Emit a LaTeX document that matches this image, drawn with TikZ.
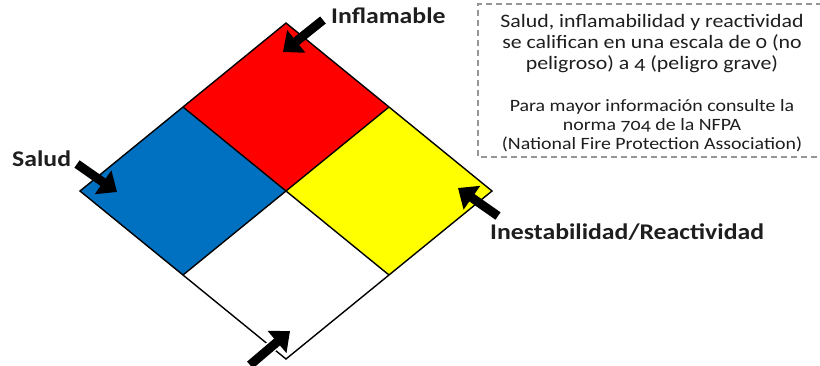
\documentclass[tikz,border=0pt]{standalone}
\usepackage{fontspec}
\setmainfont{Carlito}[Numbers=OldStyle,FakeStretch=1.15]
\usetikzlibrary{arrows.meta}
\definecolor{nfpablue}{RGB}{0,112,192}
\definecolor{nfpared}{RGB}{255,0,0}
\definecolor{nfpayellow}{RGB}{255,255,0}
\definecolor{txtgray}{RGB}{30,30,30}
\definecolor{dashgray}{RGB}{150,150,150}
\begin{document}
\begin{tikzpicture}[x=1pt,y=-1pt,
  edge/.style={draw=black,line width=1.4pt,line join=miter},
  blockarrow/.style={draw=black,line width=9pt,-{Triangle[length=17pt,width=28pt]}},
  whitearrow/.style={draw=white,line width=12pt,-{Triangle[length=20pt,width=33pt]}},
  lbl/.style={inner sep=0pt,font=\fontsize{22.4}{26}\selectfont\bfseries,text=txtgray},
  boxtext/.style={inner sep=0pt,align=center,text=txtgray},
  infobox/.style={draw=dashgray,line width=1.2pt,dash pattern=on 6pt off 4pt}
]
\useasboundingbox (0,0) rectangle (820,365);
% diamond corners
\coordinate (T) at (286,23);
\coordinate (L) at (80,191);
\coordinate (B) at (286,359);
\coordinate (R) at (492,191);
\coordinate (C) at (286,191);
\coordinate (TL) at (183,107);
\coordinate (TR) at (389,107);
\coordinate (BL) at (183,275);
\coordinate (BR) at (389,275);
% quadrants
\fill[nfpared] (T) -- (TR) -- (C) -- (TL) -- cycle;
\fill[nfpablue] (TL) -- (C) -- (BL) -- (L) -- cycle;
\fill[nfpayellow] (TR) -- (R) -- (BR) -- (C) -- cycle;
\fill[white] (C) -- (BR) -- (B) -- (BL) -- cycle;
\draw[edge] (T) -- (R) -- (B) -- (L) -- cycle;
\draw[edge] (TL) -- (BR);
\draw[edge] (TR) -- (BL);
% arrows
\coordinate (a1s) at (323,20);  \coordinate (a1e) at (283,52);
\coordinate (a2s) at (77,164);  \coordinate (a2e) at (117,192);
\coordinate (a3s) at (498,216); \coordinate (a3e) at (458,188);
\coordinate (a4s) at (250,365); \coordinate (a4e) at (290,331);
\coordinate (a4w) at (292,329);
\draw[blockarrow] (a1s) -- (a1e);
\draw[blockarrow] (a2s) -- (a2e);
\draw[blockarrow] (a3s) -- (a3e);
\draw[whitearrow] (a4s) -- (a4w);
\draw[blockarrow] (a4s) -- (a4e);
% labels
\node[lbl,anchor=base west] (inf) at (331,23) {Inflamable};
\node[lbl,anchor=base west] (sal) at (12,166) {Salud};
\node[lbl,anchor=base west] (rea) at (490,239) {Inestabilidad/Reactividad};
% info box
\coordinate (bx1) at (822,4);
\coordinate (bx2) at (478,4);
\coordinate (bx3) at (478,157);
\coordinate (bx4) at (822,157);
\draw[infobox] (bx1) -- (bx2) -- (bx3) -- (bx4);
\node[boxtext,anchor=north,font=\fontsize{19}{21}\selectfont] (p1) at (652,14.5)
  {Salud, inflamabilidad y reactividad\\se califican en una escala de 0 (no\\peligroso) a 4 (peligro grave)};
\node[boxtext,anchor=north,font=\fontsize{17.3}{19}\selectfont] (p2) at (652,99.5)
  {Para mayor información consulte la\\norma 704 de la NFPA\\(National Fire Protection Association)};
\end{tikzpicture}
\end{document}
